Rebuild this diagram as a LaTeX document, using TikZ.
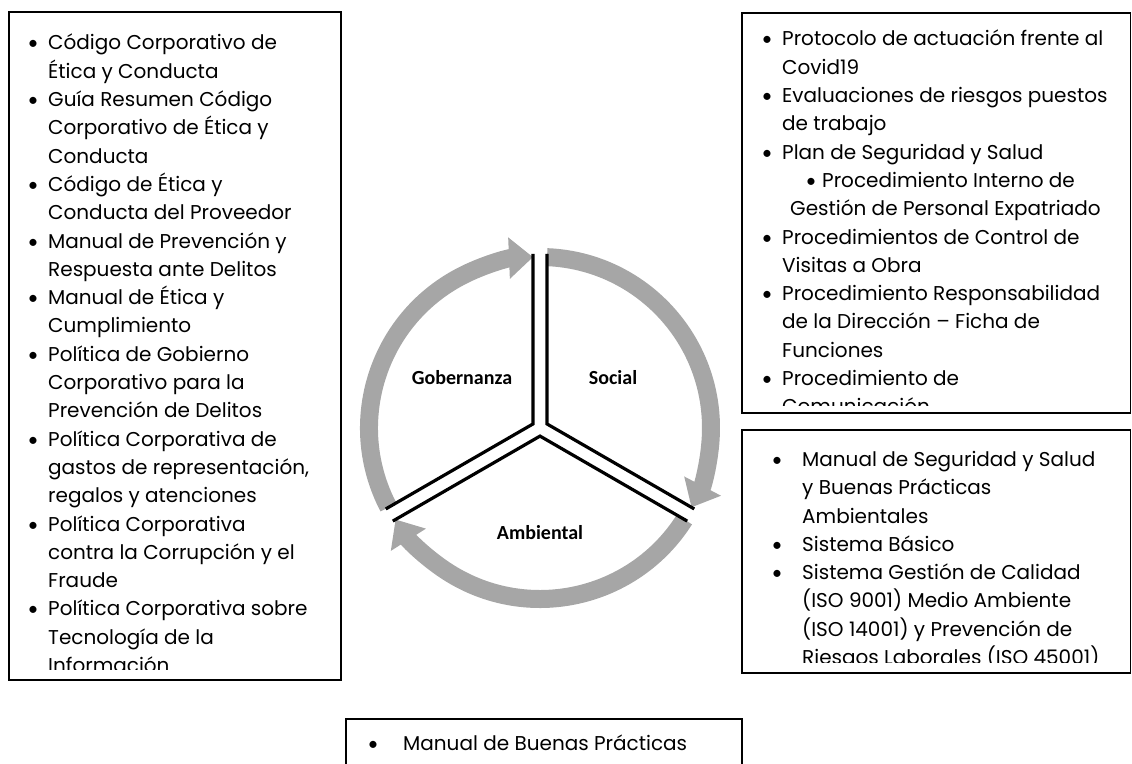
\documentclass[tikz,border=0pt]{standalone}
\usepackage{fontspec}
\setmainfont{Poppins}
\newfontfamily\calfont{Carlito}
\usetikzlibrary{arrows.meta}

\newcommand{\bul}[1]{\makebox[#1][c]{\calfont\textbullet}}
\newcommand{\gap}[1]{\hspace*{#1}}

\begin{document}
\begin{tikzpicture}[x=1pt,y=1pt,
  box/.style={draw=black,line width=1.6pt},
  list/.style={anchor=north west,inner sep=0pt,align=left,
    font=\fontsize{20}{28.3}\selectfont},
  ring/.style={draw=black!35,line width=18pt,-{Triangle[width=40pt,length=24pt]}},
  spoke/.style={draw=black,line width=3.2pt},
  pillar/.style={font=\calfont\bfseries\fontsize{20}{24}\selectfont}]
\useasboundingbox (0,0) rectangle (1132,763);

% gobernanza box
\begin{scope}
\clip (10,93) rectangle (340,750);
\node[list] (govlist) at (18,729) {%
\bul{30pt}Código Corporativo de\\
\gap{30pt}Ética y Conducta\\
\bul{30pt}Guía Resumen Código\\
\gap{30pt}Corporativo de Ética y\\
\gap{30pt}Conducta\\
\bul{30pt}Código de Ética y\\
\gap{30pt}Conducta del Proveedor\\
\bul{30pt}Manual de Prevención y\\
\gap{30pt}Respuesta ante Delitos\\
\bul{30pt}Manual de Ética y\\
\gap{30pt}Cumplimiento\\
\bul{30pt}Política de Gobierno\\
\gap{30pt}Corporativo para la\\
\gap{30pt}Prevención de Delitos\\
\bul{30pt}Política Corporativa de\\
\gap{30pt}gastos de representación,\\
\gap{30pt}regalos y atenciones\\
\bul{30pt}Política Corporativa\\
\gap{30pt}contra la Corrupción y el\\
\gap{30pt}Fraude\\
\bul{30pt}Política Corporativa sobre\\
\gap{30pt}Tecnología de la\\
\gap{30pt}Información};
\end{scope}
\draw[box] (9,83) rectangle (341,751);

% social box
\begin{scope}
\clip (743,357) rectangle (1130,749);
\node[list] (soclist) at (752,733) {%
\bul{30pt}Protocolo de actuación frente al\\
\gap{30pt}Covid19\\
\bul{30pt}Evaluaciones de riesgos puestos\\
\gap{30pt}de trabajo\\
\bul{30pt}Plan de Seguridad y Salud\\
\gap{48pt}\bul{22pt}Procedimiento Interno de\\
\gap{38pt}Gestión de Personal Expatriado\\
\bul{30pt}Procedimientos de Control de\\
\gap{30pt}Visitas a Obra\\
\bul{30pt}Procedimiento Responsabilidad\\
\gap{30pt}de la Dirección -- Ficha de\\
\gap{30pt}Funciones\\
\bul{30pt}Procedimiento de\\
\gap{30pt}Comunicación};
\end{scope}
\draw[box] (742,350) rectangle (1130.5,750);

% ambiental box
\begin{scope}
\clip (743,100) rectangle (1130,332);
\node[list] (amblist) at (752,312) {%
\bul{50pt}Manual de Seguridad y Salud\\
\gap{50pt}y Buenas Prácticas\\
\gap{50pt}Ambientales\\
\bul{50pt}Sistema Básico\\
\bul{50pt}Sistema Gestión de Calidad\\
\gap{50pt}(ISO 9001) Medio Ambiente\\
\gap{50pt}(ISO 14001) y Prevención de\\
\gap{50pt}Riesgos Laborales (ISO 45001)};
\end{scope}
\draw[box] (742,90) rectangle (1130.5,333);

% bottom box
\node[list] (extralist) at (343,28) {\bul{60pt}Manual de Buenas Prácticas};
\draw[box] (346,-5) rectangle (742,44);

% cycle
\coordinate (ctr) at (540,335);
\coordinate (gov) at ([shift={(150:8.1)}]ctr);
\coordinate (soc) at ([shift={(30:8.1)}]ctr);
\coordinate (amb) at ([shift={(270:8.1)}]ctr);

\draw[ring] ([shift={(207.65:171)}]ctr) arc[start angle=207.65,end angle=92.35,radius=171];
\draw[ring] ([shift={(87.65:171)}]ctr) arc[start angle=87.65,end angle=-27.65,radius=171];
\draw[ring] ([shift={(-32.35:171)}]ctr) arc[start angle=-32.35,end angle=-147.65,radius=171];

\draw[spoke] ([shift={(90:170)}]gov) -- (gov) -- ([shift={(210:170)}]gov);
\draw[spoke] ([shift={(90:170)}]soc) -- (soc) -- ([shift={(330:170)}]soc);
\draw[spoke] ([shift={(210:170)}]amb) -- (amb) -- ([shift={(330:170)}]amb);

\node[pillar] (govlabel) at (462,385) {Gobernanza};
\node[pillar] (soclabel) at (613,385) {Social};
\node[pillar] (amblabel) at (540,230) {Ambiental};
\end{tikzpicture}
\end{document}
